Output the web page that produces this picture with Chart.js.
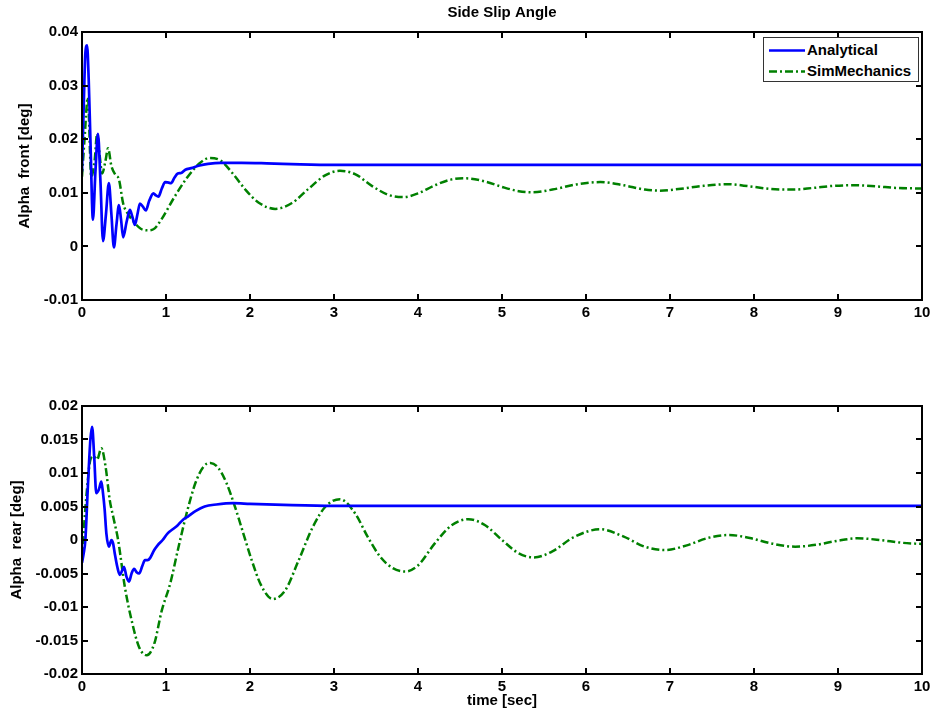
<!DOCTYPE html>
<html>
<head>
<meta charset="utf-8">
<title>Side Slip Angle</title>
<script src="https://cdn.jsdelivr.net/npm/chart.js@4.4.1/dist/chart.umd.min.js"></script>
<style>
  html, body { margin: 0; padding: 0; background: #fff; }
  #wrap { position: relative; width: 935px; height: 715px; overflow: hidden; }
  #wrap canvas { position: absolute; left: 0; }
  #frontChart { top: 0; }
  #rearChart { top: 385px; }
  .legend {
    position: absolute; left: 763px; top: 37px; width: 154px; height: 43px;
    border: 1px solid #333; background: #fff;
    font: bold 15px "Liberation Sans", Arial, sans-serif; color: #000;
  }
  .legend .row { position: absolute; left: 0; height: 18px; line-height: 18px; }
  .legend svg { position: absolute; left: 5px; top: 8px; }
  .legend span { position: absolute; left: 43px; top: 0; white-space: nowrap; }
</style>
</head>
<body>
<div id="wrap">
  <canvas id="frontChart" width="935" height="330"></canvas>
  <canvas id="rearChart" width="935" height="330"></canvas>
  <div class="legend">
    <div class="row" style="top:3px">
      <svg width="36" height="3"><line x1="0" y1="1.5" x2="36" y2="1.5" stroke="#0000ff" stroke-width="2.5"/></svg>
      <span>Analytical</span>
    </div>
    <div class="row" style="top:24px">
      <svg width="36" height="3"><line x1="0" y1="1.5" x2="36" y2="1.5" stroke="#008000" stroke-width="2.5" stroke-dasharray="8 3 2 3"/></svg>
      <span>SimMechanics</span>
    </div>
  </div>
</div>
<script>
// values, time in seconds, angles in deg
const frontTimeAnalytical = [0, 0.02, 0.04, 0.06, 0.08, 0.10, 0.13, 0.16, 0.19, 0.22, 0.25, 0.285, 0.32, 0.35, 0.38, 0.41, 0.44, 0.465, 0.49, 0.53, 0.57, 0.60, 0.63, 0.66, 0.69, 0.725, 0.76, 0.80, 0.85, 0.88, 0.91, 0.95, 0.99, 1.03, 1.06, 1.10, 1.14, 1.18, 1.23, 1.30, 1.40, 1.50, 1.65, 1.90, 2.20, 2.60, 3.00, 4.00, 6.00, 8.00, 10.00];
const frontAnalytical = [0.014, 0.026, 0.036, 0.0375, 0.031, 0.020, 0.005, 0.014, 0.021, 0.012, 0.001, 0.006, 0.0118, 0.006, -0.0002, 0.004, 0.0077, 0.005, 0.0017, 0.0045, 0.0068, 0.0055, 0.0040, 0.006, 0.008, 0.0074, 0.0067, 0.0085, 0.0099, 0.0095, 0.0093, 0.0108, 0.012, 0.0119, 0.0118, 0.0128, 0.0136, 0.0137, 0.0143, 0.0146, 0.0151, 0.0154, 0.0156, 0.0156, 0.0155, 0.0153, 0.0152, 0.0152, 0.0152, 0.0152, 0.0152];

const frontTimeSim = [0, 0.03, 0.07, 0.11, 0.15, 0.18, 0.21, 0.24, 0.28, 0.31, 0.35, 0.40, 0.44, 0.49, 0.55, 0.62, 0.70, 0.78, 0.85, 0.94, 1.10, 1.25, 1.40, 1.52, 1.65, 1.80, 1.95, 2.10, 2.30, 2.50, 2.70, 2.90, 3.07, 3.25, 3.45, 3.65, 3.83, 4.00, 4.20, 4.40, 4.57, 4.80, 5.00, 5.20, 5.36, 5.60, 5.90, 6.17, 6.45, 6.70, 6.88, 7.10, 7.40, 7.68, 7.95, 8.20, 8.46, 8.70, 8.95, 9.20, 9.45, 9.70, 10.00];
const frontSim = [0.013, 0.020, 0.0278, 0.013, 0.016, 0.021, 0.017, 0.0136, 0.016, 0.0183, 0.015, 0.0133, 0.0125, 0.008, 0.0060, 0.0045, 0.0033, 0.003, 0.0032, 0.0049, 0.0092, 0.0128, 0.0155, 0.0165, 0.0160, 0.0135, 0.0105, 0.0082, 0.0070, 0.0081, 0.0108, 0.0133, 0.0141, 0.0135, 0.0113, 0.0096, 0.0092, 0.0099, 0.0114, 0.0125, 0.0127, 0.0121, 0.0111, 0.0103, 0.0101, 0.0106, 0.0116, 0.0120, 0.0114, 0.0106, 0.0104, 0.0107, 0.0113, 0.0116, 0.0112, 0.0107, 0.0106, 0.0109, 0.0113, 0.0114, 0.0112, 0.0109, 0.0108];

const rearTimeAnalytical = [0, 0.02, 0.04, 0.07, 0.10, 0.12, 0.145, 0.17, 0.20, 0.23, 0.25, 0.27, 0.29, 0.32, 0.35, 0.37, 0.39, 0.42, 0.45, 0.48, 0.50, 0.53, 0.56, 0.59, 0.62, 0.65, 0.68, 0.72, 0.75, 0.78, 0.81, 0.86, 0.90, 0.96, 1.02, 1.08, 1.14, 1.20, 1.26, 1.35, 1.46, 1.60, 1.80, 2.00, 2.50, 3.00, 4.00, 6.00, 8.00, 10.00];
const rearAnalytical = [-0.0034, -0.002, 0.0, 0.008, 0.015, 0.0169, 0.0125, 0.007, 0.0075, 0.0087, 0.007, 0.0045, 0.001, -0.001, 0.0, -0.0005, -0.002, -0.004, -0.0052, -0.0045, -0.004, -0.0055, -0.0062, -0.005, -0.0043, -0.0048, -0.005, -0.0038, -0.003, -0.003, -0.0027, -0.0015, -0.0008, 0.0, 0.001, 0.0016, 0.0022, 0.003, 0.0035, 0.0043, 0.005, 0.0053, 0.0055, 0.0054, 0.0052, 0.0051, 0.0051, 0.0051, 0.0051, 0.0051];

const rearTimeSim = [0, 0.03, 0.07, 0.10, 0.14, 0.18, 0.23, 0.28, 0.33, 0.38, 0.43, 0.51, 0.60, 0.68, 0.77, 0.86, 0.95, 1.05, 1.15, 1.25, 1.35, 1.45, 1.53, 1.62, 1.72, 1.82, 1.92, 2.02, 2.13, 2.27, 2.42, 2.58, 2.75, 2.90, 3.07, 3.25, 3.40, 3.55, 3.70, 3.85, 4.00, 4.20, 4.40, 4.60, 4.80, 5.00, 5.20, 5.38, 5.60, 5.85, 6.17, 6.45, 6.70, 6.94, 7.20, 7.45, 7.70, 7.95, 8.20, 8.49, 8.75, 9.00, 9.23, 9.50, 9.75, 10.00];
const rearSim = [-0.003, 0.003, 0.009, 0.012, 0.0125, 0.012, 0.0137, 0.011, 0.006, 0.003, 0.0, -0.007, -0.0125, -0.016, -0.0172, -0.0155, -0.0105, -0.0065, -0.001, 0.0042, 0.0085, 0.0110, 0.0115, 0.0108, 0.0085, 0.005, 0.001, -0.003, -0.0067, -0.0088, -0.0075, -0.003, 0.002, 0.005, 0.0061, 0.004, 0.0005, -0.0025, -0.0042, -0.0047, -0.0038, -0.0005, 0.0022, 0.0031, 0.0022, 0.0, -0.002, -0.0026, -0.0017, 0.0004, 0.0016, 0.0005, -0.001, -0.0015, -0.0008, 0.0003, 0.00075, 0.0003, -0.0005, -0.001, -0.0007, -0.0001, 0.00025, 0.0, -0.0004, -0.0006];

const timeTicks = [0, 1, 2, 3, 4, 5, 6, 7, 8, 9, 10];

const BLUE = '#0000ff';
const GREEN = '#008000';

Chart.defaults.font.family = '"Liberation Sans", Arial, sans-serif';
Chart.defaults.font.size = 15;
Chart.defaults.font.weight = 'bold';
Chart.defaults.color = '#000';

const toPoints = (ts, vs) => ts.map((t, i) => ({ x: t, y: vs[i] }));
const fmt = v => String(Number(v.toFixed(4)));

// matlab style frame with inward ticks on all four sides
const boxPlugin = {
    id: 'matlabBox',
    afterDatasetsDraw(chart) {
        const { ctx, chartArea: a, scales: { x, y } } = chart;
        const len = 6;
        ctx.save();
        ctx.strokeStyle = '#000';
        ctx.lineWidth = 2;
        ctx.beginPath();
        x.ticks.forEach(t => {
            const px = Math.round(x.getPixelForValue(t.value));
            ctx.moveTo(px, a.bottom); ctx.lineTo(px, a.bottom - len);
            ctx.moveTo(px, a.top); ctx.lineTo(px, a.top + len);
        });
        y.ticks.forEach(t => {
            const py = Math.round(y.getPixelForValue(t.value));
            ctx.moveTo(a.left, py); ctx.lineTo(a.left + len, py);
            ctx.moveTo(a.right, py); ctx.lineTo(a.right - len, py);
        });
        ctx.stroke();
        ctx.strokeRect(a.left, a.top, a.right - a.left, a.bottom - a.top);
        ctx.restore();
    }
};

function makeChart(id, cfg) {
    return new Chart(document.getElementById(id), {
        type: 'line',
        data: {
            datasets: [
                {
                    label: 'Analytical',
                    data: cfg.analytical,
                    borderColor: BLUE,
                    borderWidth: 2.7,
                    pointRadius: 0,
                    cubicInterpolationMode: 'monotone'
                },
                {
                    label: 'SimMechanics',
                    data: cfg.sim,
                    borderColor: GREEN,
                    borderWidth: 2.5,
                    borderDash: [8, 3, 2, 3],
                    pointRadius: 0,
                    cubicInterpolationMode: 'monotone'
                }
            ]
        },
        options: {
            responsive: false,
            animation: false,
            events: [],
            layout: { padding: { left: 0, right: 13, top: cfg.padTop, bottom: 0 } },
            plugins: {
                legend: { display: false },
                tooltip: { enabled: false },
                title: cfg.title
            },
            scales: {
                x: {
                    type: 'linear',
                    min: 0, max: 10,
                    afterBuildTicks: s => { s.ticks = timeTicks.map(v => ({ value: v })); },
                    grid: { display: false, drawTicks: false },
                    border: { display: false },
                    ticks: { padding: 4, maxRotation: 0, autoSkip: false, callback: v => fmt(v) },
                    title: cfg.xTitle,
                    afterFit: s => { s.height = cfg.xHeight; }
                },
                y: {
                    type: 'linear',
                    min: cfg.yMin, max: cfg.yMax,
                    afterBuildTicks: s => { s.ticks = cfg.yTicks.map(v => ({ value: v })); },
                    grid: { display: false, drawTicks: false },
                    border: { display: false },
                    ticks: { padding: 4, autoSkip: false, callback: v => fmt(v) },
                    title: { display: true, text: cfg.yLabel, padding: { top: cfg.yTitlePad, bottom: 0 } },
                    afterFit: s => { s.width = 82; }
                }
            }
        },
        plugins: [boxPlugin]
    });
}

makeChart('frontChart', {
    analytical: toPoints(frontTimeAnalytical, frontAnalytical),
    sim: toPoints(frontTimeSim, frontSim),
    yMin: -0.01, yMax: 0.04,
    yTicks: [-0.01, 0, 0.01, 0.02, 0.03, 0.04],
    yLabel: 'Alpha  front [deg]',
    yTitlePad: 16,
    padTop: 0,
    xHeight: 30,
    xTitle: { display: false },
    title: {
        display: true,
        text: 'Side Slip Angle',
        fullSize: false,
        font: { size: 15, weight: 'bold' },
        padding: { top: 4, bottom: 10 }
    }
});

makeChart('rearChart', {
    analytical: toPoints(rearTimeAnalytical, rearAnalytical),
    sim: toPoints(rearTimeSim, rearSim),
    yMin: -0.02, yMax: 0.02,
    yTicks: [-0.02, -0.015, -0.01, -0.005, 0, 0.005, 0.01, 0.015, 0.02],
    yLabel: 'Alpha  rear [deg]',
    yTitlePad: 8,
    padTop: 21,
    xHeight: 41,
    xTitle: { display: true, text: 'time [sec]', padding: { top: 0, bottom: 5 } },
    title: { display: false }
});
</script>
</body>
</html>
